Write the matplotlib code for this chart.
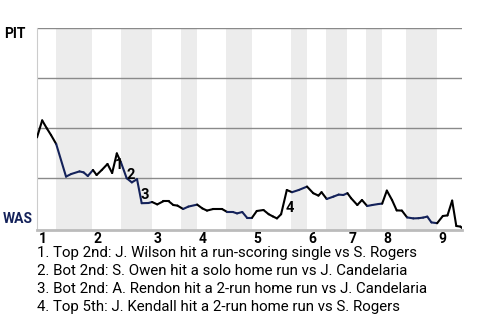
import matplotlib
matplotlib.use("Agg")
import matplotlib.pyplot as plt
from matplotlib.collections import LineCollection
import numpy as np

plt.rcParams['font.family'] = ['Roboto', 'DejaVu Sans']

# play number (game progress) and PIT win probability (%)
play_x = [0.0, 1.0, 1.9, 2.7, 3.7, 5.6, 6.6, 8.2, 9.0, 9.8,
          10.8, 11.5, 12.5, 13.6, 14.5, 15.4, 16.2, 17.3, 18.3, 19.3,
          20.2, 21.5, 22.2, 23.2, 24.4, 25.4, 26.3, 27.1, 28.2, 29.2,
          30.9, 31.9, 32.8, 34.0, 35.7, 36.7, 37.8, 38.6, 39.6, 40.5,
          41.5, 42.4, 43.7, 44.7, 45.5, 46.3, 47.1, 48.2, 49.2, 50.5,
          52.1, 53.3, 54.3, 54.9, 55.9, 57.2, 58.2, 59.1, 59.9, 60.6,
          61.8, 62.7, 63.7, 64.7, 65.9, 66.6, 67.5, 68.5, 69.4, 70.4,
          71.4, 72.6, 73.6, 74.5, 75.3, 76.1, 77.2, 78.3, 79.2, 80.1,
          80.9, 81.7, 82.0]
pit_win = [45.3, 53.8, 49.8, 46.5, 42.0, 25.7, 27.0, 28.3, 27.8, 26.0,
           29.0, 26.5, 29.0, 32.0, 27.5, 37.3, 32.8, 24.9, 22.8, 24.4,
           12.4, 12.5, 13.0, 11.8, 13.4, 13.4, 11.5, 11.2, 9.5, 10.7,
           11.7, 9.8, 8.7, 9.5, 9.5, 8.0, 8.0, 7.3, 8.0, 5.2,
           5.2, 8.5, 9.0, 6.9, 5.8, 4.8, 6.9, 19.0, 17.9, 19.0,
           20.7, 17.4, 16.2, 17.9, 14.5, 15.7, 16.7, 16.5, 17.4, 14.9,
           11.5, 14.0, 11.0, 11.5, 12.0, 12.2, 18.7, 14.0, 8.8, 8.7,
           5.3, 4.8, 4.9, 5.2, 5.7, 2.8, 2.4, 6.0, 6.3, 13.7,
           1.0, 0.7, 0.0]

# start of each inning and start/end of each bottom half
inning_start = [0.0, 10.6, 22.2, 30.9, 41.5, 52.1, 59.8, 66.6, 77.2]
bottom_start = [3.7, 16.2, 27.8, 36.5, 49.0, 55.8, 63.5, 71.2]
bottom_end = [10.6, 22.2, 30.9, 41.5, 52.1, 59.8, 66.6, 77.2]
game_end = 82.0

event_num = ['1', '2', '3', '4']
event_x = [15.9, 18.0, 20.8, 48.8]
event_y = [31.5, 26.5, 16.5, 9.9]
event_text = [
    "1. Top 2nd: J. Wilson hit a run-scoring single vs S. Rogers",
    "2. Bot 2nd: S. Owen hit a solo home run vs J. Candelaria",
    "3. Bot 2nd: A. Rendon hit a 2-run home run vs J. Candelaria",
    "4. Top 5th: J. Kendall hit a 2-run home run vs S. Rogers",
]

navy = '#14225A'

fig = plt.figure(figsize=(4.8, 3.2), dpi=100)
ax = fig.add_axes([37 / 480, 1 - 230 / 320, 425 / 480, 202 / 320])

for b0, b1 in zip(bottom_start, bottom_end):
    ax.axvspan(b0, b1, color='#ececec', lw=0, zorder=0)

for g in [25, 50, 75, 100]:
    ax.axhline(g, color='#8a8a8a', lw=1.0, zorder=1)

# colour segments by which half inning they fall in
xs = np.array(play_x)
ys = np.array(pit_win)
segs = []
cols = []
for i in range(len(xs) - 1):
    segs.append([(xs[i], ys[i]), (xs[i + 1], ys[i + 1])])
    mid = (xs[i] + xs[i + 1]) / 2
    in_bot = any(b0 <= mid < b1 for b0, b1 in zip(bottom_start, bottom_end))
    cols.append(navy if in_bot else 'black')
lc = LineCollection(segs, colors=cols, linewidths=1.5, zorder=3,
                    capstyle='round', joinstyle='round')
ax.add_collection(lc)

for n, x, y in zip(event_num, event_x, event_y):
    ax.text(x, y, n, fontsize=10.5, fontweight='bold', ha='center',
            va='center', zorder=4)

ax.set_xlim(0, game_end)
ax.set_ylim(-1, 100)
ax.set_xticks([])
ax.set_yticks([])
for s in ['top', 'right']:
    ax.spines[s].set_visible(False)
ax.spines['left'].set_color('#cccccc')
ax.spines['left'].set_linewidth(0.8)
ax.spines['bottom'].set_color('#bbbbbb')
ax.spines['bottom'].set_linewidth(2)

for i, x in enumerate(inning_start):
    ax.text(x + 0.3, -2.2, str(i + 1), fontsize=10, fontweight='bold',
            ha='left', va='top')

fig.text(4 / 480, 1 - 34 / 320, 'PIT', fontsize=10, fontweight='bold',
         ha='left', va='center')
fig.text(3 / 480, 1 - 219 / 320, 'WAS', fontsize=10, fontweight='bold',
         ha='left', va='center', color=navy)

for i, t in enumerate(event_text):
    fig.text(37 / 480, 1 - (253.5 + 17.8 * i) / 320, t, fontsize=10.8,
             ha='left', va='center')

fig.savefig('out.png', dpi=100)
